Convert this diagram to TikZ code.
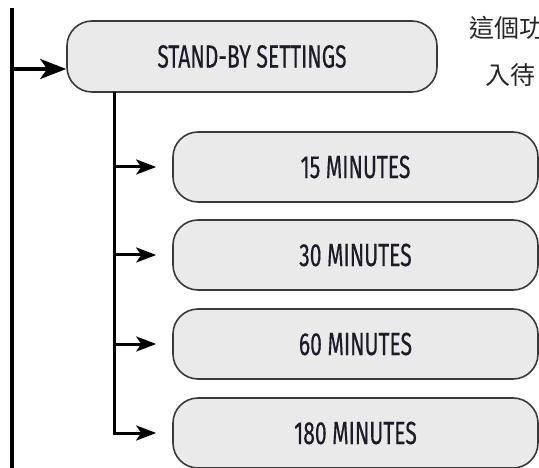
\documentclass[tikz,border=0pt]{standalone}
\usepackage{fontspec}
\usetikzlibrary{arrows.meta,calc}
\newfontfamily\condfont[FakeStretch=0.66, FakeBold=0.4]{Fira Sans}
\newfontfamily\cjkfont{Noto Sans CJK TC}
\definecolor{boxfill}{HTML}{EAEAEA}
\definecolor{boxline}{HTML}{3A3A3A}
\definecolor{txt}{HTML}{1C1C28}
\tikzset{
  x=1pt, y=-1pt,
  rbox/.style={draw=boxline, line width=1.6pt, fill=boxfill, rounded corners=25pt,
    inner sep=0pt, text=txt, font=\condfont\fontsize{32}{34}\selectfont},
  mainbox/.style={rbox, minimum width=370pt, minimum height=71pt},
  subbox/.style={rbox, minimum width=365pt, minimum height=70pt},
  trunk/.style={line width=3.5pt},
  bigarrow/.style={line width=4pt, -{Stealth[length=26pt, width=20pt, inset=7pt]}},
  subline/.style={line width=3pt},
  subarrow/.style={line width=3pt, -{Stealth[length=20pt, width=15pt, inset=5pt]}, shorten >=16pt},
  cjk/.style={anchor=west, inner sep=0pt, text=black!85, font=\cjkfont\fontsize{25}{28}\selectfont}
}
\begin{document}
\begin{tikzpicture}
\useasboundingbox (0,0) rectangle (539,468);
% trunk on the left
\coordinate (ttop) at (12,8);
\coordinate (tbot) at (12,468);
\draw[trunk] (ttop) -- (tbot);
% main box
\node[mainbox] (main) at (252,56.5) {STAND-BY SETTINGS};
\coordinate (j0) at (12,69);
\draw[bigarrow] (j0) -- (j0 -| main.west);
% sub boxes
\node[subbox] (b1) at (355.5,167) {15 MINUTES};
\node[subbox] (b2) at (355.5,255) {30 MINUTES};
\node[subbox] (b3) at (355.5,344) {60 MINUTES};
\node[subbox] (b4) at (355.5,433) {180 MINUTES};
\coordinate (k) at (114,92);
\draw[subline] (k) -- (k |- b4.west);
\draw[subarrow] (k |- b1.west) -- (b1.west);
\draw[subarrow] (k |- b2.west) -- (b2.west);
\draw[subarrow] (k |- b3.west) -- (b3.west);
\draw[subarrow] ([yshift=1.5pt]k |- b4.west) -- (k |- b4.west) -- (b4.west);
% side text (cut off at the right edge)
\node[cjk] (t1) at (469,28) {這個功};
\node[cjk] (t2) at (485,75) {入待};
\end{tikzpicture}
\end{document}
